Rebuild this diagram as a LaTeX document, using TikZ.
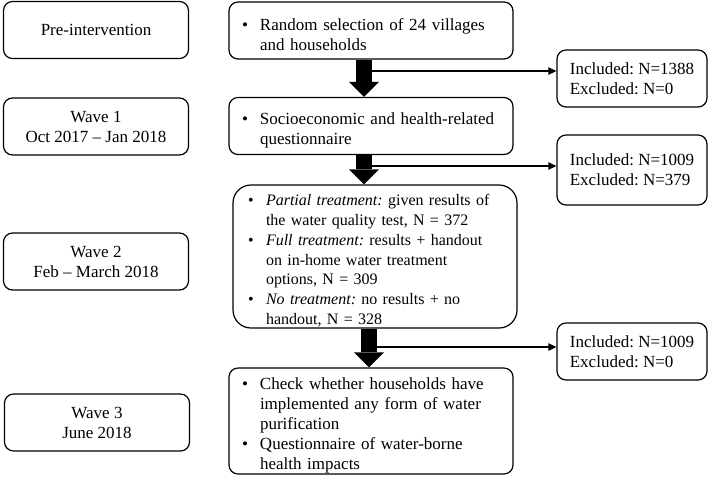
\documentclass[tikz,border=0pt]{standalone}
\usepackage{fontspec}
\setmainfont{Liberation Serif}
\usetikzlibrary{arrows.meta}
\newcommand{\fs}{\fontsize{12.75pt}{15pt}\selectfont\frenchspacing}
\newcommand{\fsb}{\fontsize{12pt}{14.8pt}\selectfont\frenchspacing}
\newcommand{\bitem}[1]{\par\hangindent=13.5pt\hangafter=1\noindent\makebox[13.5pt][l]{\textbullet}#1\par}
\begin{document}
\begin{tikzpicture}[x=0.75pt,y=-0.75pt,
  box/.style={draw, line width=0.9pt, rounded corners=6.75pt, font=\fs, inner ysep=0pt},
  lbox/.style={box, minimum width=138.75pt, minimum height=42.75pt, align=center, inner xsep=0pt},
  rbox/.style={box, minimum width=213pt, text width=193.5pt, inner xsep=9.75pt, align=left},
  ibox/.style={box, minimum width=112.5pt, align=left, inner xsep=0pt},
  bigarrow/.style={line width=12pt, -{Triangle[width=22.5pt,length=11.25pt,line width=0pt]}},
  thinarrow/.style={line width=1.1pt, -{Triangle[width=5.5pt,length=6pt]}}
]
\useasboundingbox (0,0) rectangle (709,480);
% left column
\node[lbox] (L1) at (96,30) {Pre-intervention};
\node[lbox] (L2) at (96,126.5) {Wave 1\\Oct 2017 -- Jan 2018};
\node[lbox] (L3) at (96,261.5) {Wave 2\\Feb -- March 2018};
\node[lbox] (L4) at (97,422.5) {Wave 3\\June 2018};
% middle column
\node[rbox, minimum height=42.75pt] (R1) at (371,30.5)
  {\bitem{Random selection of 24 villages\newline and households}};
\node[rbox, minimum height=42.75pt] (R2) at (371,126)
  {\bitem{Socioeconomic and health-related\newline questionnaire}};
\node[box, font=\fsb, minimum width=213pt, text width=190.5pt, inner xsep=11.25pt, align=left,
      minimum height=107.25pt, rounded corners=13.5pt] (R3) at (375,256.5)
  {\bitem{\textit{Partial treatment:} given results of\newline the water quality test, N = 372}%
   \bitem{\textit{Full treatment:} results + handout\newline on in-home water treatment\newline options, N = 309}%
   \bitem{\textit{No treatment:} no results + no\newline handout, N = 328}};
\node[rbox, minimum height=79.5pt] (R4) at (371,421)
  {\bitem{Check whether households have\newline implemented any form of water\newline purification}%
   \bitem{Questionnaire of water-borne\newline health impacts}};
% right column
\node[ibox, minimum height=42.75pt] (IA) at (632,78.5) {Included: N=1388\\Excluded: N=0};
\node[ibox, minimum height=52.5pt] (IB) at (632,170) {Included: N=1009\\Excluded: N=379};
\node[ibox, minimum height=42.75pt] (IC) at (632,351.5) {Included: N=1009\\Excluded: N=0};
% thin arrows
\coordinate (t1) at (364,71);
\coordinate (t2) at (364,166);
\coordinate (t3) at (369,347);
\draw[thinarrow] (t1) -- (t1 -| IA.west);
\draw[thinarrow] (t2) -- (t2 -| IB.west);
\draw[thinarrow] (t3) -- (t3 -| IC.west);
% thick arrows
\draw[bigarrow] (R1.south -| 364,0) -- (R2.north -| 364,0);
\draw[bigarrow] (R2.south -| 364,0) -- (R3.north -| 364,0);
\draw[bigarrow] (R3.south -| 369,0) -- (R4.north -| 369,0);
\end{tikzpicture}
\end{document}
